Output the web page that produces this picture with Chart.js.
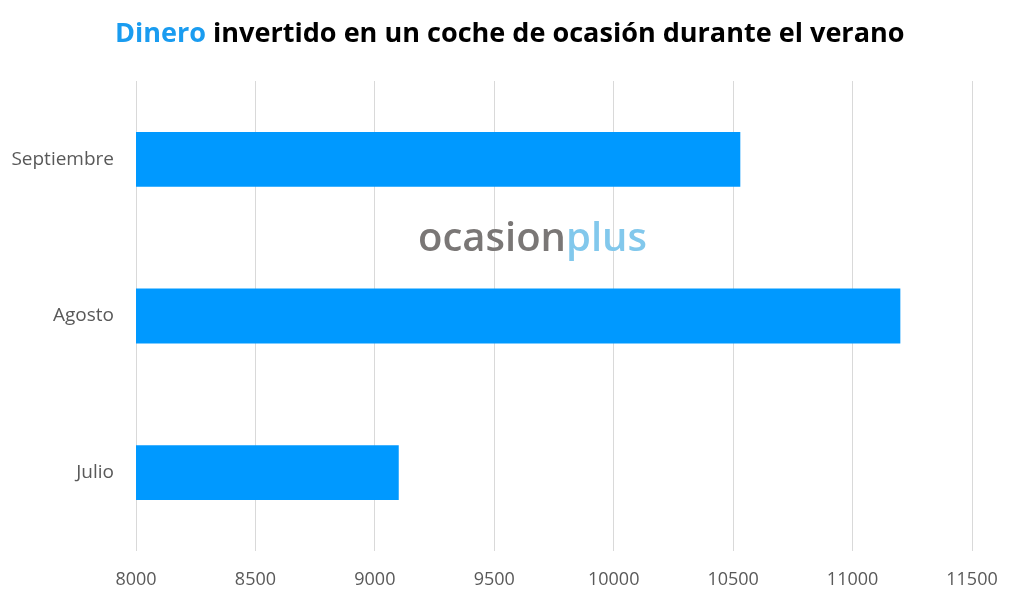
<!DOCTYPE html>
<html>
<head>
<meta charset="utf-8">
<script src="https://cdn.jsdelivr.net/npm/chart.js@4"></script>
<style>
  html, body { margin: 0; padding: 0; background: #fff; }
  #wrap { width: 1019px; height: 601px; }
</style>
</head>
<body>
<div id="wrap"><canvas id="chart" width="1019" height="601"></canvas></div>
<script>
// data
const months = ['Julio', 'Agosto', 'Septiembre'];
const invested = [9100, 11200, 10530];
const xTicks = [8000, 8500, 9000, 9500, 10000, 10500, 11000, 11500];

const titleHighlight = 'Dinero';
const titleRest = ' invertido en un coche de ocasión durante el verano';

const tickFont = "'Open Sans', 'Noto Sans', sans-serif";

// title in two colours + watermark
const decorations = {
  id: 'decorations',
  beforeDatasetsDraw(chart) {
    const ctx = chart.ctx;
    ctx.save();
    // watermark
    let size = 34;
    ctx.font = '600 ' + size + 'px ' + tickFont;
    const w1 = ctx.measureText('ocasion').width;
    const w2 = ctx.measureText('plus').width;
    size = size * 229 / (w1 + w2);
    ctx.font = '600 ' + size + 'px ' + tickFont;
    const a = ctx.measureText('ocasion').width;
    const x0 = 418;
    ctx.textBaseline = 'alphabetic';
    ctx.textAlign = 'left';
    ctx.fillStyle = '#7a7776';
    ctx.fillText('ocasion', x0, 251);
    ctx.fillStyle = '#82c8ec';
    ctx.fillText('plus', x0 + a, 251);
    ctx.restore();
  },
  afterDraw(chart) {
    const ctx = chart.ctx;
    ctx.save();
    let size = 28;
    const fam = "'Open Sans', 'Noto Sans', sans-serif";
    ctx.font = 'bold ' + size + 'px ' + fam;
    let total = ctx.measureText(titleHighlight + titleRest).width;
    size = size * 790 / total;
    ctx.font = 'bold ' + size + 'px ' + fam;
    const hw = ctx.measureText(titleHighlight).width;
    const x0 = 115;
    ctx.textBaseline = 'alphabetic';
    ctx.textAlign = 'left';
    ctx.fillStyle = '#1a9cf0';
    ctx.fillText(titleHighlight, x0, 42);
    ctx.fillStyle = '#000000';
    ctx.fillText(titleRest, x0 + hw, 42);
    ctx.restore();
  }
};

new Chart(document.getElementById('chart').getContext('2d'), {
  type: 'bar',
  data: {
    labels: months,
    datasets: [{
      data: invested,
      backgroundColor: '#0099ff',
      borderWidth: 0,
      barPercentage: 0.35,
      categoryPercentage: 1
    }]
  },
  options: {
    indexAxis: 'y',
    responsive: false,
    animation: false,
    layout: { padding: { top: 81, right: 47, left: 0, bottom: 0 } },
    plugins: {
      legend: { display: false },
      tooltip: { enabled: false }
    },
    scales: {
      x: {
        min: 8000,
        max: 11500,
        afterBuildTicks(scale) {
          scale.ticks = xTicks.map(v => ({ value: v }));
        },
        afterFit(scale) { scale.height = 50; },
        grid: { color: '#d9d9d9', lineWidth: 1, drawTicks: false },
        border: { display: false },
        ticks: {
          color: '#595959',
          font: { family: tickFont, size: 18 },
          padding: 18,
          callback: v => String(v)
        }
      },
      y: {
        reverse: true,
        afterFit(scale) { scale.width = 136; },
        grid: { display: false, drawTicks: false },
        border: { display: false },
        ticks: {
          color: '#595959',
          font: { family: tickFont, size: 19 },
          padding: 22
        }
      }
    }
  },
  plugins: [decorations]
});
</script>
</body>
</html>
